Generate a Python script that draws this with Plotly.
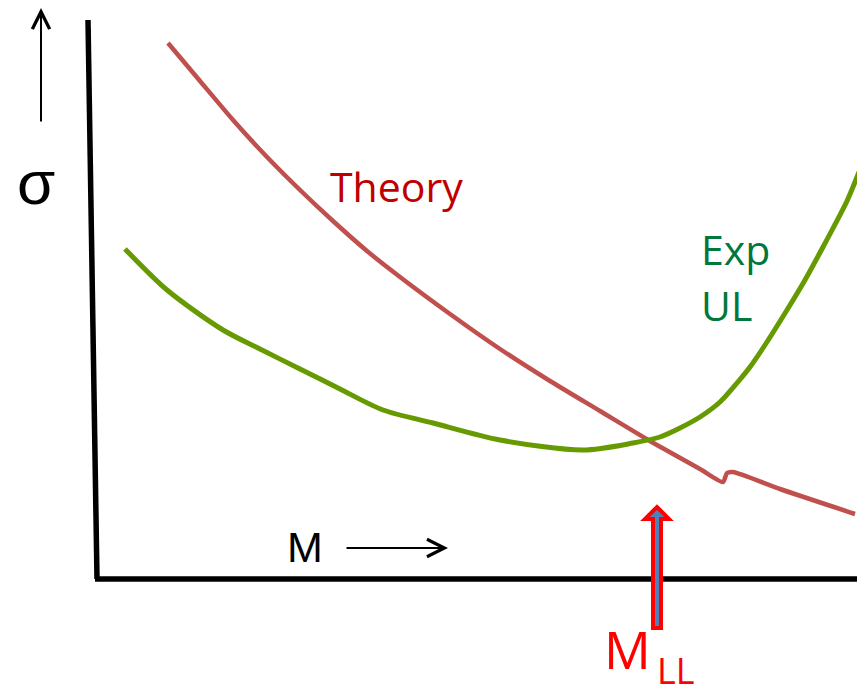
import plotly.graph_objects as go

# ---- data (schematic: mass M on x, cross-section sigma on y, in drawing units) ----
theory_m = [168, 200, 233, 267, 300, 333, 367, 400, 450, 500, 550, 600, 650, 700, 723, 727, 733, 780, 855]
theory_sigma = [644, 606, 567, 530, 497, 466, 436, 410, 373, 338, 306, 276, 246, 218, 205, 214, 215, 198, 173]

exp_m = [125, 167, 223, 260, 300, 340, 383, 433, 500, 583, 633, 660, 680, 700, 720, 737, 750, 765, 787, 805, 823, 847, 859]
exp_sigma = [438, 397, 357, 338, 318, 298, 277, 264, 247, 237, 244, 250, 259, 270, 285, 304, 320, 342, 377, 407, 440, 486, 515]

m_ll = 657          # crossing mass (lower limit)
x_range = [8, 865]
y_range = [0, 679]

fig = go.Figure()
fig.add_trace(go.Scatter(x=theory_m, y=theory_sigma, mode="lines",
                         line=dict(color="#C0504D", width=4.5, shape="spline", smoothing=0.6),
                         hoverinfo="skip"))
fig.add_trace(go.Scatter(x=exp_m, y=exp_sigma, mode="lines",
                         line=dict(color="#669A00", width=5, shape="spline", smoothing=0.8),
                         hoverinfo="skip"))

shapes = []
# hand-drawn axes
shapes.append(dict(type="line", xref="x", yref="y", x0=88, y0=667, x1=97, y1=108,
                   line=dict(color="black", width=5.5)))
shapes.append(dict(type="line", xref="x", yref="y", x0=95, y0=108, x1=865, y1=108,
                   line=dict(color="black", width=5.5)))
# block arrow marking M_LL
w = 4
path = (f"M{m_ll - w},59 L{m_ll - w},168 L{m_ll - 12},168 L{m_ll},180 "
        f"L{m_ll + 12},168 L{m_ll + w},168 L{m_ll + w},59 Z")
shapes.append(dict(type="path", xref="x", yref="y", path=path,
                   fillcolor="#4F81BD", line=dict(color="#FF0000", width=4)))

annotations = []
# sigma arrow (up)
annotations.append(dict(x=41, y=679, ax=41, ay=564, xref="x", yref="y", axref="x", ayref="y",
                        text="", showarrow=True, arrowhead=5, arrowsize=1.7, arrowwidth=2,
                        arrowcolor="black"))
# M arrow (right)
annotations.append(dict(x=448, y=139, ax=345, ay=139, xref="x", yref="y", axref="x", ayref="y",
                        text="", showarrow=True, arrowhead=5, arrowsize=1.7, arrowwidth=2,
                        arrowcolor="black"))
annotations.append(dict(x=36, y=505, xref="x", yref="y", text="σ", showarrow=False,
                        font=dict(family="Liberation Sans", size=62, color="black"),
                        xanchor="center", yanchor="middle"))
annotations.append(dict(x=285, y=140, xref="x", yref="y", text="M", showarrow=False,
                        font=dict(family="Liberation Sans", size=43, color="black"),
                        xanchor="left", yanchor="middle"))
annotations.append(dict(x=396, y=501, xref="x", yref="y", text="Theory", showarrow=False,
                        font=dict(family="Open Sans", size=41, color="#C00000"),
                        xanchor="center", yanchor="middle"))
annotations.append(dict(x=699, y=438, xref="x", yref="y", text="Exp", showarrow=False,
                        font=dict(family="Open Sans", size=41, color="#00783C"),
                        xanchor="left", yanchor="middle"))
annotations.append(dict(x=699, y=382, xref="x", yref="y", text="UL", showarrow=False,
                        font=dict(family="Open Sans", size=41, color="#00783C"),
                        xanchor="left", yanchor="middle"))
annotations.append(dict(x=602, y=39, xref="x", yref="y", text="M", showarrow=False,
                        font=dict(family="Open Sans", size=52, color="#FF0000"),
                        xanchor="left", yanchor="middle"))
annotations.append(dict(x=655, y=17, xref="x", yref="y", text="LL", showarrow=False,
                        font=dict(family="Open Sans", size=36, color="#FF0000"),
                        xanchor="left", yanchor="middle"))

fig.update_layout(
    width=857, height=679,
    margin=dict(l=0, r=0, t=0, b=0),
    paper_bgcolor="white", plot_bgcolor="white",
    showlegend=False,
    xaxis=dict(range=x_range, visible=False, fixedrange=True),
    yaxis=dict(range=y_range, visible=False, fixedrange=True),
    shapes=shapes, annotations=annotations,
)
fig.write_html("out.html")
